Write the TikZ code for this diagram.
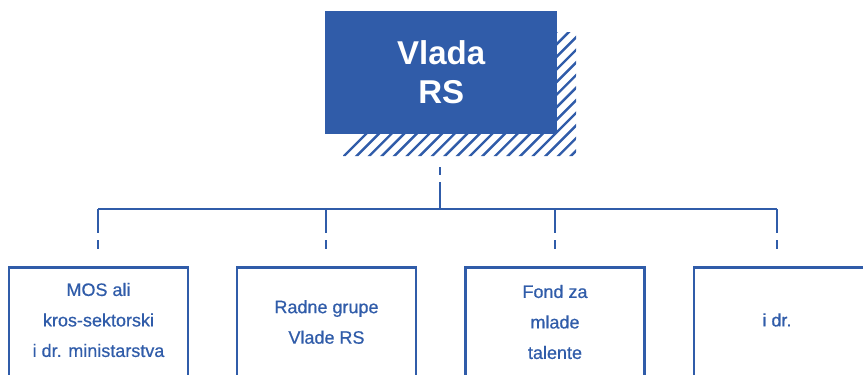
\documentclass[tikz,border=0pt]{standalone}
\usepackage{fontspec}
\setmainfont{Liberation Sans}
\newfontfamily\medfont[FakeBold=0.6]{Liberation Sans}
\definecolor{govblue}{HTML}{305CA9}
\begin{document}
\begin{tikzpicture}[x=1pt,y=-1pt,
  conn/.style={draw=govblue,line width=2.7pt},
  childbox/.style={draw=govblue,line width=2.7pt,minimum width=179pt,minimum height=160pt,anchor=north,inner sep=0pt},
  childtext/.style={text=govblue,font=\medfont\fontsize{18}{30.5}\selectfont,align=center,inner sep=0pt}]
\useasboundingbox (0,0) rectangle (863,375);
\clip (0,0) rectangle (863,375);
% hatched shadow
\begin{scope}
  \clip (557,32) -- (576,32) -- (576,156) -- (343,156) -- (343,134) -- (557,134) -- cycle;
  \foreach \i in {0,...,40} {
    \draw[govblue,line width=2.4pt] (330+\i*12.6,170) -- ++(150,-150);
  }
\end{scope}
% top box
\node[fill=govblue,minimum width=232pt,minimum height=123pt,inner sep=0pt,anchor=north west,
  text=white,font=\bfseries\fontsize{33}{39}\selectfont,align=center] (top) at (325,11) {Vlada\\RS};
% connectors
\coordinate (tstart) at (440,167);
\coordinate (hub) at (440,209);
\coordinate (hl) at (98,209);
\coordinate (hr) at (777,209);
\coordinate (h2) at (326,209);
\coordinate (h3) at (555,209);
% children
\node[childbox] (c1) at (98.5,266) {};
\node[childbox] (c2) at (326.5,266) {};
\node[childbox] (c3) at (555,266) {};
\node[childbox] (c4) at (783.5,266) {};
\node[childtext] (t1) at (98.5,320) {MOS ali\\kros-sektorski\\i dr. ministarstva};
\node[childtext] (t2) at (326.5,322) {Radne grupe\\Vlade RS};
\node[childtext] (t3) at (555,322) {Fond za\\mlade\\talente};
\node[childtext] (t4) at (777,320) {i dr.};
\draw[conn,dash pattern=on 8pt off 7pt on 40pt] (tstart) -- (hub);
\draw[conn] (hl) -- (hr);
\foreach \c/\x in {hl/98,h2/326,h3/555,hr/777} {
  \draw[conn,dash pattern=on 24pt off 7pt on 20pt] (\c) -- (\x,249);
}
\end{tikzpicture}
\end{document}
